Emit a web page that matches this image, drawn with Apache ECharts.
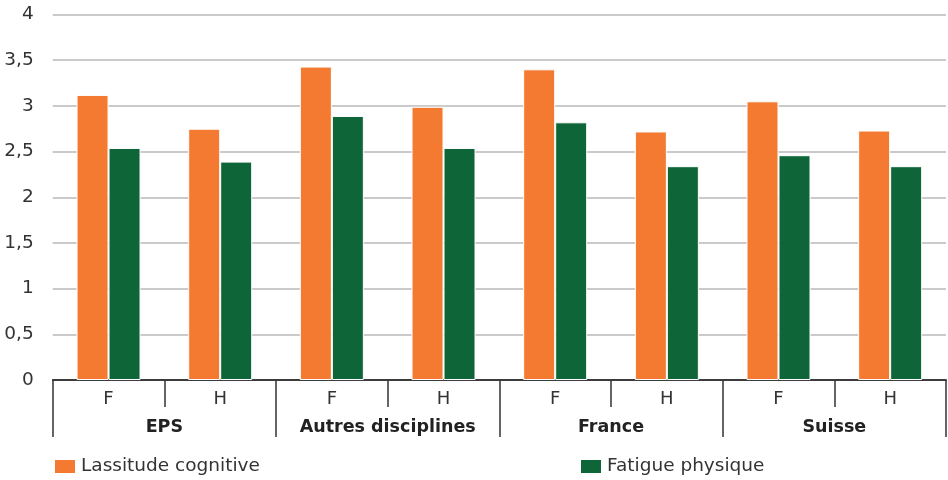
<!DOCTYPE html>
<html>
<head>
<meta charset="utf-8">
<script src="https://cdn.jsdelivr.net/npm/echarts@6/dist/echarts.min.js"></script>
<style>
html,body{margin:0;padding:0;background:#fff;}
#chart{width:948px;height:480px;}
</style>
</head>
<body>
<div id="chart"></div>
<script>
const subCategories = ['F', 'H', 'F', 'H', 'F', 'H', 'F', 'H'];
const groups = ['EPS', 'Autres disciplines', 'France', 'Suisse'];
const seriesNames = ['Lassitude cognitive', 'Fatigue physique'];
const lassitude = [3.12, 2.75, 3.43, 2.99, 3.40, 2.72, 3.05, 2.73];
const fatigue = [2.54, 2.39, 2.89, 2.54, 2.82, 2.34, 2.46, 2.34];
const yTicks = { min: 0, max: 4, interval: 0.5 };

const font = '"DejaVu Sans", sans-serif';
const chart = echarts.init(document.getElementById('chart'), null, { renderer: 'canvas' });
chart.setOption({
  animation: false,
  backgroundColor: '#fff',
  grid: { left: 52.7, right: 2, top: 14.5, bottom: 100, containLabel: false },
  legend: [
    {
      data: [seriesNames[0]], left: 53, top: 457, padding: 0, itemWidth: 22, itemHeight: 15, itemGap: 6,
      icon: 'rect', textStyle: { fontFamily: font, fontSize: 18.5, color: '#333' }
    },
    {
      data: [seriesNames[1]], left: 579, top: 457, padding: 0, itemWidth: 22, itemHeight: 15, itemGap: 6,
      icon: 'rect', textStyle: { fontFamily: font, fontSize: 18.5, color: '#333' }
    }
  ],
  xAxis: [
    {
      type: 'category', data: subCategories, position: 'bottom',
      axisLine: { show: true, lineStyle: { color: '#333', width: 1.5 } },
      axisTick: { show: true, interval: 0, length: 27, lineStyle: { color: '#333', width: 1.5 } },
      axisLabel: { interval: 0, margin: 10, fontFamily: font, fontSize: 18, color: '#333' }
    },
    {
      type: 'category', data: groups, position: 'bottom',
      axisLine: { show: true, lineStyle: { color: '#333', width: 1.5 } },
      axisTick: { show: true, interval: 0, length: 57, lineStyle: { color: '#333', width: 1.5 } },
      axisLabel: { interval: 0, margin: 38, fontFamily: font, fontSize: 17.5, fontWeight: 'bold', color: '#222' }
    }
  ],
  yAxis: {
    type: 'value', min: yTicks.min, max: yTicks.max, interval: yTicks.interval,
    axisLine: { show: false }, axisTick: { show: false },
    axisLabel: {
      margin: 19, fontFamily: font, fontSize: 18.5, color: '#333',
      formatter: v => String(v).replace('.', ',')
    },
    splitLine: { lineStyle: { color: '#b8b8b8', width: 1.5 } }
  },
  series: [
    {
      name: seriesNames[0], type: 'bar', xAxisIndex: 0, data: lassitude,
      barWidth: 32, barGap: '0%',
      itemStyle: { color: '#F37A30', borderColor: '#fff', borderWidth: 1 }
    },
    {
      name: seriesNames[1], type: 'bar', xAxisIndex: 0, data: fatigue,
      barWidth: 32, barGap: '0%',
      itemStyle: { color: '#0E6638', borderColor: '#fff', borderWidth: 1 }
    }
  ]
});
</script>
</body>
</html>
